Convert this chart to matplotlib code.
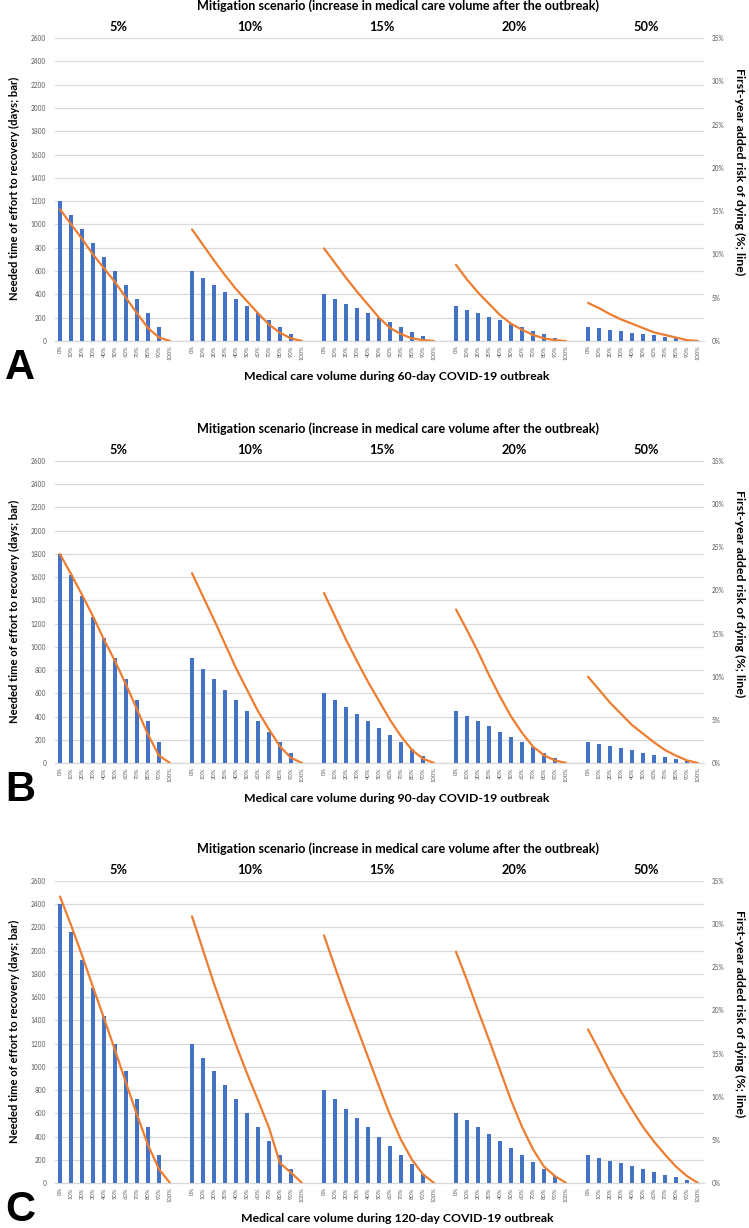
import matplotlib
matplotlib.use("Agg")
import matplotlib.pyplot as plt

plt.rcParams['font.family'] = ['Lato', 'DejaVu Sans']

W, H = 749, 1228

categories = ["0%", "10%", "20%", "30%", "40%", "50%", "60%", "70%", "80%", "90%", "100%"]
scenarios = ["5%", "10%", "15%", "20%", "50%"]
outbreak_days = [60, 90, 120]
panel_letters = ["A", "B", "C"]

# Needed time of effort to recovery (days) -- bars
bars_60 = [
    [1200, 1080, 960, 840, 720, 600, 480, 360, 240, 120, 0],
    [600, 540, 480, 420, 360, 300, 240, 180, 120, 60, 0],
    [400, 360, 320, 280, 240, 200, 160, 120, 80, 40, 0],
    [300, 270, 240, 210, 180, 150, 120, 90, 60, 30, 0],
    [120, 108, 96, 84, 72, 60, 48, 36, 24, 12, 0],
]
bars_90 = [
    [1800, 1620, 1440, 1260, 1080, 900, 720, 540, 360, 180, 0],
    [900, 810, 720, 630, 540, 450, 360, 270, 180, 90, 0],
    [600, 540, 480, 420, 360, 300, 240, 180, 120, 60, 0],
    [450, 405, 360, 315, 270, 225, 180, 135, 90, 45, 0],
    [180, 162, 144, 126, 108, 90, 72, 54, 36, 18, 0],
]
bars_120 = [
    [2400, 2160, 1920, 1680, 1440, 1200, 960, 720, 480, 240, 0],
    [1200, 1080, 960, 840, 720, 600, 480, 360, 240, 120, 0],
    [800, 720, 640, 560, 480, 400, 320, 240, 160, 80, 0],
    [600, 540, 480, 420, 360, 300, 240, 180, 120, 60, 0],
    [240, 216, 192, 168, 144, 120, 96, 72, 48, 24, 0],
]

# First-year added risk of dying (%) -- lines
risk_60 = [
    [15.2, 13.5, 11.8, 10.0, 8.4, 6.8, 5.0, 3.2, 1.5, 0.4, 0.0],
    [12.9, 11.1, 9.3, 7.6, 6.0, 4.6, 3.2, 1.9, 0.95, 0.3, 0.0],
    [10.7, 9.0, 7.3, 5.7, 4.2, 2.7, 1.5, 0.8, 0.3, 0.1, 0.0],
    [8.8, 7.1, 5.6, 4.3, 3.0, 2.0, 1.3, 0.7, 0.3, 0.1, 0.0],
    [4.4, 3.8, 3.1, 2.5, 2.0, 1.5, 1.0, 0.7, 0.4, 0.1, 0.0],
]
risk_90 = [
    [24.2, 21.9, 19.5, 17.0, 14.3, 11.8, 9.1, 6.2, 3.3, 0.85, 0.0],
    [22.0, 19.3, 16.6, 13.8, 11.0, 8.5, 6.0, 3.9, 1.9, 0.6, 0.0],
    [19.7, 17.0, 14.3, 11.8, 9.4, 7.2, 5.0, 3.1, 1.5, 0.5, 0.0],
    [17.8, 15.4, 12.9, 10.2, 7.7, 5.4, 3.5, 1.9, 0.9, 0.3, 0.0],
    [10.0, 8.5, 7.0, 5.7, 4.4, 3.4, 2.4, 1.5, 0.85, 0.3, 0.0],
]
risk_120 = [
    [33.2, 29.9, 26.4, 22.7, 19.1, 15.4, 11.6, 7.9, 4.4, 1.6, 0.0],
    [30.9, 27.0, 23.1, 19.5, 16.0, 12.7, 9.6, 6.4, 2.3, 1.2, 0.0],
    [28.7, 25.0, 21.4, 18.0, 14.6, 11.2, 7.9, 5.0, 2.7, 1.0, 0.0],
    [26.8, 23.5, 20.0, 16.6, 13.1, 9.6, 6.5, 3.9, 1.9, 0.8, 0.0],
    [17.8, 15.4, 12.9, 10.6, 8.5, 6.5, 4.8, 3.3, 1.9, 0.8, 0.0],
]

left_ticks = list(range(0, 2601, 200))
right_ticks = [0, 5, 10, 15, 20, 25, 30, 35]

BLUE = "#4472C4"
ORANGE = "#ED7D31"
GRID = "#D9D9D9"
TICKC = "#595959"

fig = plt.figure(figsize=(W / 100, H / 100), dpi=100)

def fx(px):
    return px / W

def fy(py):
    return 1 - py / H

panels = [
    (bars_60, risk_60, 38, 341),
    (bars_90, risk_90, 461, 763),
    (bars_120, risk_120, 881, 1183),
]

ax_left_px, ax_right_px = 54.5, 703.5
n_cat = len(categories)
step = n_cat + 1

for p, (bars, risks, top_px, bot_px) in enumerate(panels):
    ax = fig.add_axes([fx(ax_left_px), fy(bot_px), fx(ax_right_px - ax_left_px),
                       (bot_px - top_px) / H])
    ax2 = ax.twinx()
    ax.set_zorder(1)
    ax2.set_zorder(2)
    ax.patch.set_visible(False)
    ax2.patch.set_visible(False)

    tick_pos, tick_lab = [], []
    for g, (bv, rv) in enumerate(zip(bars, risks)):
        xs = [g * step + i for i in range(n_cat)]
        ax.bar(xs, bv, width=0.42, color=BLUE, zorder=3)
        ax2.plot(xs, rv, color=ORANGE, lw=1.6, solid_capstyle='round', zorder=4)
        tick_pos += xs
        tick_lab += categories
        fig.text(fx(ax_left_px + 11.0 * (g * step + 5.3 + 0.5)), fy(top_px - 11),
                 scenarios[g], ha='center', va='center', fontsize=9.2,
                 fontweight='bold', color='black')

    total = len(scenarios) * step - 1
    ax.set_xlim(-0.5, total - 0.5)
    ax.set_ylim(0, 2600)
    ax2.set_ylim(0, 35)
    ax.set_yticks(left_ticks)
    ax.set_yticklabels([str(t) for t in left_ticks])
    ax2.set_yticks(right_ticks)
    ax2.set_yticklabels([f"{t}%" for t in right_ticks])
    ax.set_xticks(tick_pos)
    ax.set_xticklabels(tick_lab, rotation=90, fontsize=4.2, color=TICKC)
    ax.tick_params(axis='x', length=0, pad=3)
    ax.tick_params(axis='y', length=0, pad=6, labelsize=4.7, labelcolor=TICKC)
    ax2.tick_params(axis='y', length=0, pad=6, labelsize=4.7, labelcolor=TICKC)
    ax.grid(axis='y', color=GRID, lw=0.9, zorder=0)
    ax.set_axisbelow(True)
    for a in (ax, ax2):
        for s in a.spines.values():
            s.set_visible(False)
    ax.spines['bottom'].set_visible(True)
    ax.spines['bottom'].set_color(GRID)
    ax.spines['bottom'].set_linewidth(0.9)

    # texts
    fig.text(fx(398), fy(top_px - 32), "Mitigation scenario (increase in medical care volume after the outbreak)",
             ha='center', va='center', fontsize=9.1, fontweight='bold')
    fig.text(fx(397), fy(bot_px + 35),
             f"Medical care volume during {outbreak_days[p]}-day COVID-19 outbreak",
             ha='center', va='center', fontsize=8.8, fontweight='bold')
    fig.text(fx(14), fy((top_px + bot_px) / 2 - 1), "Needed time of effort to recovery (days; bar)",
             ha='center', va='center', rotation=90, fontsize=8.1, fontweight='bold')
    fig.text(fx(740), fy((top_px + bot_px) / 2 - 18), "First-year added risk of dying (%; line)",
             ha='center', va='center', rotation=270, fontsize=8.9, fontweight='bold')
    fig.text(fx(20), fy(bot_px + 27), panel_letters[p], ha='center', va='center',
             fontsize=30, fontweight='bold', family='Liberation Sans')

fig.savefig("out.png", dpi=100)
